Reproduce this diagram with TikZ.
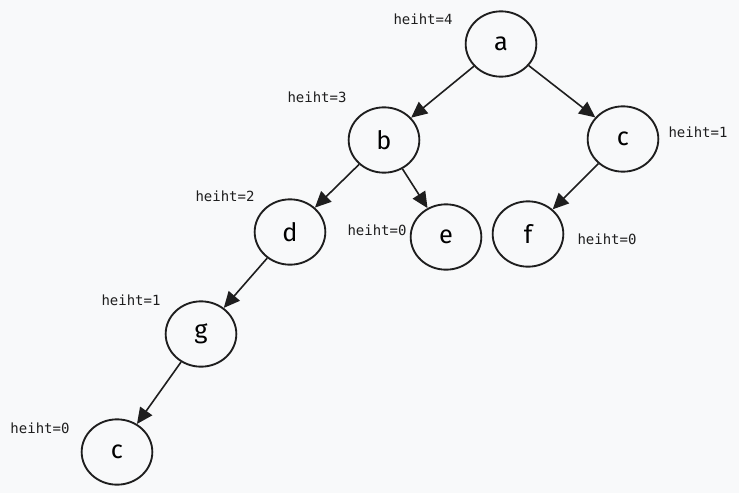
\documentclass[tikz,border=0pt]{standalone}
\usepackage{fontspec}
\setmainfont{Fira Sans}
\setmonofont{DejaVu Sans Mono}
\usetikzlibrary{arrows.meta,shapes.geometric}
\definecolor{bgpaper}{RGB}{248,249,250}
\definecolor{inkline}{RGB}{30,30,30}

\begin{document}
\begin{tikzpicture}[x=0.75pt,y=-0.75pt,
    vert/.style={draw=inkline,line width=1.4pt,ellipse,minimum width=53pt,minimum height=49pt,inner sep=0pt,font=\fontsize{19}{20}\selectfont},
    hlabel/.style={font=\ttfamily\fontsize{10.5}{11}\selectfont,text=inkline},
    edge/.style={draw=inkline,line width=1.2pt,-{Triangle[length=12pt,width=11pt]}}]
\fill[bgpaper] (0,0) rectangle (739,493);
\useasboundingbox (0,0) rectangle (739,493);

\node[vert] (a) at (501,44) {a};
\node[vert] (b) at (384,140) {b};
\node[vert] (c1) at (623,139) {c};
\node[vert] (d) at (290,232) {d};
\node[vert] (e) at (446,237) {e};
\node[vert] (f) at (528,234) {f};
\node[vert] (g) at (201,334) {g};
\node[vert] (c2) at (117,452) {c};

\draw[edge] (a) -- (b);
\draw[edge] (a) -- (c1);
\draw[edge] (b) -- (d);
\draw[edge] (b) -- (e);
\draw[edge] (c1) -- (f);
\draw[edge] (d) -- (g);
\draw[edge] (g) -- (c2);

\node[hlabel] (ha) at (423,19) {heiht=4};
\node[hlabel] (hb) at (317,97) {heiht=3};
\node[hlabel] (hc1) at (698,132) {heiht=1};
\node[hlabel] (hd) at (225,196) {heiht=2};
\node[hlabel] (he) at (377,230) {heiht=0};
\node[hlabel] (hf) at (607,239) {heiht=0};
\node[hlabel] (hg) at (131,300) {heiht=1};
\node[hlabel] (hc2) at (40,428) {heiht=0};
\end{tikzpicture}
\end{document}
